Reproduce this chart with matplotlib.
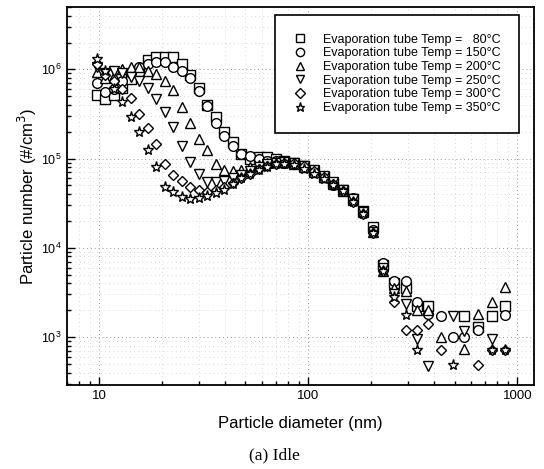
import numpy as np
import matplotlib
matplotlib.use("Agg")
import matplotlib.pyplot as plt
from matplotlib.ticker import LogLocator, NullFormatter

nan = np.nan

# Particle diameters (nm)
diam = [9.70, 10.66, 11.71, 12.86, 14.13, 15.52, 17.04, 18.72, 20.56, 22.59,
        24.81, 27.25, 29.93, 32.87, 36.11, 39.66, 43.56, 47.85, 52.56, 57.72,
        63.40, 69.64, 76.49, 85.42, 95.37, 106.5, 118.9, 131.3, 145.9, 162.9,
        181.9, 203.2, 228.1, 257.5, 292.4, 330.2, 374.8, 430.4, 491.2, 557.8,
        647.4, 751.4, 872.1]

t80 = [5.1e5, 4.6e5, 5.1e5, 6.2e5, 7.8e5, 9.5e5, 1.26e6, 1.37e6, 1.37e6, 1.37e6,
       1.14e6, 8.7e5, 6.2e5, 4.0e5, 2.9e5, 2.0e5, 1.55e5, 1.12e5, 1.0e5, 1.03e5,
       1.03e5, 1.0e5, 9.5e4, 9.0e4, 8.2e4, 7.2e4, 6.2e4, 5.3e4, 4.4e4, 3.5e4,
       2.6e4, 1.7e4, 6.5e3, 4.0e3, 3.5e3, 2.2e3, 2.2e3, nan, nan, 1.7e3,
       1.3e3, 1.7e3, 2.2e3]

t150 = [7.0e5, 5.6e5, 6.0e5, 7.5e5, 9.0e5, 1.05e6, 1.15e6, 1.2e6, 1.2e6, 1.06e6,
        9.5e5, 7.9e5, 5.7e5, 3.9e5, 2.5e5, 1.8e5, 1.37e5, 1.13e5, 1.07e5, 9.8e4,
        9.5e4, 9.3e4, 9.0e4, 8.7e4, 8.0e4, 7.2e4, 6.3e4, 5.0e4, 4.5e4, 3.6e4,
        2.6e4, 1.6e4, 6.8e3, 4.2e3, 4.2e3, 2.5e3, 1.8e3, 1.7e3, 1.0e3, 1.0e3,
        1.2e3, nan, 1.75e3]

t200 = [9.3e5, 8.0e5, 8.5e5, 1.0e6, 1.06e6, 1.05e6, 9.7e5, 8.9e5, 7.5e5, 5.8e5,
        3.8e5, 2.5e5, 1.67e5, 1.24e5, 8.7e4, 7.5e4, 7.2e4, 7.5e4, 8.0e4, 8.5e4,
        9.0e4, 9.2e4, 9.2e4, 8.8e4, 8.0e4, 7.1e4, 6.2e4, 5.2e4, 4.3e4, 3.4e4,
        2.5e4, 1.5e4, 5.5e3, 3.5e3, 3.3e3, 2.0e3, 2.0e3, 1.0e3, nan, 7.3e2,
        1.8e3, 2.5e3, 3.6e3]

t250 = [1.05e6, 9.0e5, 9.7e5, 9.0e5, 8.2e5, 7.5e5, 6.2e5, 4.7e5, 3.3e5, 2.25e5,
        1.4e5, 9.1e4, 6.8e4, 5.5e4, 5.5e4, 5.6e4, 6.0e4, 6.6e4, 7.3e4, 8.0e4,
        8.6e4, 9.0e4, 9.2e4, 9.0e4, 8.3e4, 7.4e4, 6.4e4, 5.4e4, 4.5e4, 3.5e4,
        2.5e4, 1.5e4, 6.0e3, 3.0e3, 2.36e3, 9.6e2, 4.7e2, nan, 1.7e3, 1.17e3,
        nan, 9.6e2, nan]

t300 = [1.15e6, 8.6e5, 7.5e5, 6.1e5, 4.8e5, 3.2e5, 2.2e5, 1.45e5, 8.7e4, 6.5e4,
        5.6e4, 4.8e4, 4.4e4, 4.2e4, 4.4e4, 4.8e4, 5.3e4, 6.0e4, 6.8e4, 7.6e4,
        8.3e4, 8.8e4, 9.0e4, 8.9e4, 8.2e4, 7.3e4, 6.2e4, 5.2e4, 4.3e4, 3.3e4,
        2.4e4, 1.45e4, 5.5e3, 2.5e3, 1.19e3, 1.19e3, 1.4e3, 7.1e2, nan, nan,
        4.8e2, 7.2e2, 7.2e2]

t350 = [1.29e6, 9.5e5, 6.0e5, 4.3e5, 2.9e5, 2.0e5, 1.26e5, 8.0e4, 4.8e4, 4.2e4,
        3.75e4, 3.5e4, 3.6e4, 3.85e4, 4.1e4, 4.5e4, 5.2e4, 6.1e4, 6.7e4, 7.4e4,
        8.0e4, 8.7e4, 8.7e4, 8.5e4, 7.7e4, 6.8e4, 5.9e4, 5.1e4, 4.3e4, 3.3e4,
        2.4e4, 1.45e4, 5.5e3, 2.8e3, 1.75e3, 7.1e2, nan, nan, 4.9e2, nan,
        nan, 7.2e2, 7.2e2]

temps = ["  80", "150", "200", "250", "300", "350"]
series = [t80, t150, t200, t250, t300, t350]
markers = ["s", "o", "^", "v", "D", "*"]
msizes = [6.5, 7.0, 7.0, 7.0, 5.5, 8.0]

plt.rcParams['font.family'] = ['Liberation Sans', 'DejaVu Sans']

fig = plt.figure(figsize=(5.44, 4.69), dpi=100)
ax = fig.add_axes([67/544, (469-385)/469, 467/544, 378/469])

for vals, t, m, ms in zip(series, temps, markers, msizes):
    ax.plot(diam, vals, linestyle='none', marker=m, markersize=ms,
            markerfacecolor='white', markeredgecolor='black',
            markeredgewidth=1.0,
            label=f"Evaporation tube Temp = {t}°C")

ax.set_xscale('log')
ax.set_yscale('log')
ax.set_xlim(7, 1200)
ax.set_ylim(290, 5e6)

ax.xaxis.set_minor_locator(LogLocator(base=10, subs=np.arange(2, 10)))
ax.yaxis.set_minor_locator(LogLocator(base=10, subs=np.arange(2, 10)))
ax.xaxis.set_minor_formatter(NullFormatter())
ax.yaxis.set_minor_formatter(NullFormatter())
ax.set_xticks([10, 100, 1000])
ax.set_xticklabels(["10", "100", "1000"])

ax.tick_params(which='both', direction='in', top=False, right=False,
               width=1.0)
ax.tick_params(axis='x', labelsize=9.5)
ax.tick_params(axis='y', labelsize=9, pad=4)
ax.tick_params(which='major', length=6)
ax.tick_params(which='minor', length=3)

ax.grid(True, which='major', linestyle=(0, (1, 3)), color='0.6', linewidth=0.7)
ax.grid(True, which='minor', linestyle=(0, (1, 4)), color='0.8', linewidth=0.6)
ax.set_axisbelow(True)

for s in ax.spines.values():
    s.set_linewidth(1.3)

ax.set_xlabel("Particle diameter (nm)", fontsize=12, labelpad=10)
ax.set_ylabel("Particle number (#/cm$^3$)", fontsize=12, labelpad=1)

leg = ax.legend(loc='upper left', bbox_to_anchor=(0.4454, 0.9788),
                fontsize=9, frameon=True, fancybox=False, framealpha=1,
                edgecolor='black', handlelength=1.0, handletextpad=1.3,
                labelspacing=0.13, borderpad=1.5, borderaxespad=0,
                markerscale=0.85)
leg.get_frame().set_linewidth(1.2)

fig.text(274/544, 1 - 455/469, "(a) Idle", ha='center', va='center',
         fontsize=12.5, family=['Liberation Serif', 'DejaVu Serif'])

fig.savefig("out.png", dpi=100)
